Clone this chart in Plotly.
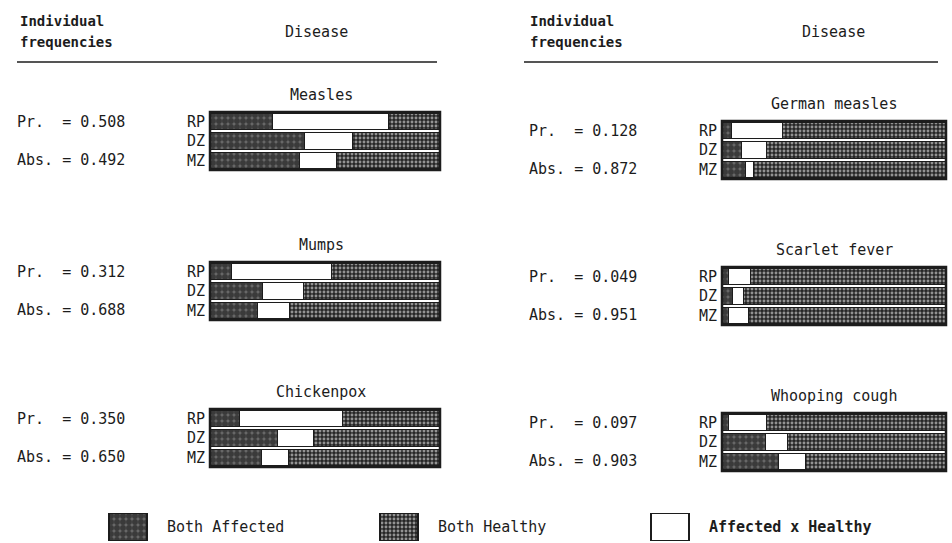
import plotly.graph_objects as go

# ---------------- data ----------------
diseases = ["Measles", "Mumps", "Chickenpox", "German measles", "Scarlet fever", "Whooping cough"]
pairs = ["RP", "DZ", "MZ"]
pr_freq = ["0.508", "0.312", "0.350", "0.128", "0.049", "0.097"]
abs_freq = ["0.492", "0.688", "0.650", "0.872", "0.951", "0.903"]

both_affected = [[0.270, 0.410, 0.390], [0.095, 0.230, 0.205], [0.127, 0.293, 0.226],
                 [0.043, 0.085, 0.107], [0.031, 0.049, 0.028], [0.030, 0.192, 0.252]]
affected_x_healthy = [[0.507, 0.209, 0.160], [0.433, 0.175, 0.141], [0.448, 0.155, 0.116],
                      [0.225, 0.115, 0.033], [0.096, 0.049, 0.090], [0.167, 0.101, 0.121]]
both_healthy = [[0.223, 0.381, 0.450], [0.472, 0.595, 0.654], [0.425, 0.552, 0.658],
                [0.732, 0.800, 0.860], [0.873, 0.902, 0.882], [0.803, 0.707, 0.627]]

legend_names = ["Both Affected", "Both Healthy", "Affected x Healthy"]

# ---------------- layout helpers ----------------
W, H = 952, 543
FONT = "DejaVu Sans Mono"
INK = "#1c1c1c"

def px(x):
    return x / W

def py(y):
    return 1 - y / H

box_x = [(210, 440)] * 3 + [(722, 946)] * 3
box_top = [112, 262, 409, 121, 267, 413]
box_h = 58
label_x = [15] * 3 + [527] * 3
title_dx = [-4] * 3 + [0] * 3

styles = [
    dict(name=legend_names[0], color="#2a2a2a",
         pattern=dict(shape=".", fgcolor="#0a0a0a", bgcolor="#6a6a6a", size=6, solidity=0.75)),
    dict(name=legend_names[2], color="white", pattern=None),
    dict(name=legend_names[1], color="#2a2a2a",
         pattern=dict(shape=".", fgcolor="white", bgcolor="#262626", size=4, solidity=0.42)),
]

fig = go.Figure()
layout = dict(width=W, height=H, margin=dict(l=0, r=0, t=0, b=0),
              paper_bgcolor="white", plot_bgcolor="white",
              barmode="stack", bargap=0.16, showlegend=False,
              font=dict(family=FONT, color=INK))
annotations = []
shapes = []

for i, d in enumerate(diseases):
    k = i + 1
    xa = "x" if k == 1 else f"x{k}"
    ya = "y" if k == 1 else f"y{k}"
    x0, x1 = box_x[i]
    top = box_top[i]
    layout["xaxis" if k == 1 else f"xaxis{k}"] = dict(
        domain=[px(x0), px(x1)], range=[0, 1], anchor=ya,
        showgrid=False, showticklabels=False, zeroline=False, ticks="", fixedrange=True)
    layout["yaxis" if k == 1 else f"yaxis{k}"] = dict(
        domain=[py(top + box_h), py(top)], anchor=xa, type="category",
        categoryorder="array", categoryarray=pairs, autorange="reversed",
        showgrid=False, zeroline=False, ticks="", ticklabelstandoff=4,
        tickfont=dict(family=FONT, size=15, color=INK), fixedrange=True)
    series = [both_affected[i], affected_x_healthy[i], both_healthy[i]]
    for s, vals in zip(styles, series):
        marker = dict(color=s["color"], line=dict(color=INK, width=1))
        if s["pattern"]:
            marker["pattern"] = s["pattern"]
        fig.add_trace(go.Bar(x=vals, y=pairs, orientation="h", name=s["name"],
                             marker=marker, xaxis=xa, yaxis=ya, hoverinfo="skip"))
    shapes.append(dict(type="rect", xref=f"{xa} domain", yref=f"{ya} domain",
                       x0=0, x1=1, y0=0, y1=1, line=dict(color=INK, width=2.5)))
    annotations.append(dict(text=d, x=px((x0 + x1) / 2 + title_dx[i]), y=py(top - 17),
                            xref="paper", yref="paper", showarrow=False,
                            xanchor="center", yanchor="middle",
                            font=dict(family=FONT, size=15, color=INK)))
    annotations.append(dict(text=f"Pr.  = {pr_freq[i]}", x=px(label_x[i]), y=py(top + 10),
                            xref="paper", yref="paper", showarrow=False,
                            xanchor="left", yanchor="middle",
                            font=dict(family=FONT, size=15, color=INK)))
    annotations.append(dict(text=f"Abs. = {abs_freq[i]}", x=px(label_x[i]), y=py(top + 48),
                            xref="paper", yref="paper", showarrow=False,
                            xanchor="left", yanchor="middle",
                            font=dict(family=FONT, size=15, color=INK)))

# headers
for hx, dx, lx in [(18, 316, (17, 437)), (528, 833, (524, 938))]:
    annotations.append(dict(text="<b>Individual</b>", x=px(hx), y=py(21), xref="paper", yref="paper",
                            showarrow=False, xanchor="left", yanchor="middle",
                            font=dict(family=FONT, size=14, color=INK)))
    annotations.append(dict(text="<b>frequencies</b>", x=px(hx), y=py(42), xref="paper", yref="paper",
                            showarrow=False, xanchor="left", yanchor="middle",
                            font=dict(family=FONT, size=14, color=INK)))
    annotations.append(dict(text="Disease", x=px(dx), y=py(32), xref="paper", yref="paper",
                            showarrow=False, xanchor="center", yanchor="middle",
                            font=dict(family=FONT, size=15, color=INK)))
    shapes.append(dict(type="line", xref="paper", yref="paper", x0=px(lx[0]), x1=px(lx[1]),
                       y0=py(62), y1=py(62), line=dict(color=INK, width=1.5)))

# legend swatches (one small axis)
leg_styles = [styles[0], styles[2], styles[1]]
span = 271.0
half = 20.0 / span
layout["xaxis7"] = dict(domain=[px(108), px(690)], range=[-half, 2 + half], anchor="y7",
                        showgrid=False, showticklabels=False, zeroline=False, fixedrange=True)
layout["yaxis7"] = dict(domain=[py(541), py(513)], range=[0, 1], anchor="x7",
                        showgrid=False, showticklabels=False, zeroline=False, fixedrange=True)
for j, s in enumerate(leg_styles):
    marker = dict(color=s["color"], line=dict(color=INK, width=2.5))
    if s["pattern"]:
        marker["pattern"] = s["pattern"]
    fig.add_trace(go.Bar(x=[j], y=[1], width=[2 * half * 0.95], marker=marker, name=s["name"],
                         xaxis="x7", yaxis="y7", hoverinfo="skip"))
    annotations.append(dict(text=s["name"] if j < 2 else "<b>" + s["name"] + "</b>",
                            x=px(128 + j * span + 37), y=py(527),
                            xref="paper", yref="paper", showarrow=False,
                            xanchor="left", yanchor="middle",
                            font=dict(family=FONT, size=15, color=INK)))

layout["annotations"] = annotations
layout["shapes"] = shapes
fig.update_layout(**layout)
fig.write_html("out.html",
               config={"displayModeBar": False, "staticPlot": True},
               post_script="document.body.style.margin='0';document.body.style.overflow='hidden';")
